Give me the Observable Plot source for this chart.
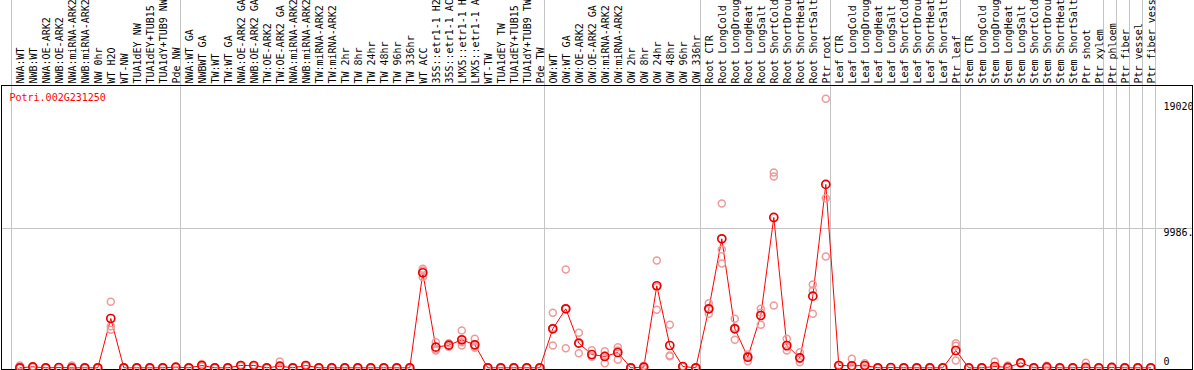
<!DOCTYPE html>
<html><head><meta charset="utf-8">
<script src="https://cdn.jsdelivr.net/npm/d3@7"></script>
<script src="https://cdn.jsdelivr.net/npm/@observablehq/plot@0.6"></script>
<style>
html,body{margin:0;padding:0;background:#fff;}
svg{display:block;}
</style>
</head><body><div id="chart"></div>
<script>
const gene = "Potri.002G231250";
const samples = [
"NWA:WT","NWB:WT","NWA:OE-ARK2","NWB:OE-ARK2","NWA:miRNA-ARK2","NWB:miRNA-ARK2","NW 0hr","WT H2O","WT-NW","TUA1dEY NW",
"TUA1dEY+TUB15 NW","TUA1dY+TUB9 NW","Pde NW","NWA:WT GA","NWBWT GA","TW:WT","TW:WT GA","NWA:OE-ARK2 GA","NWB:OE-ARK2 GA","TW:OE-ARK2",
"TW:OE-ARK2 GA","NWA:miRNA-ARK2 GA","NWB:miRNA-ARK2 GA","TW:miRNA-ARK2","TW:miRNA-ARK2 GA","TW 2hr","TW 8hr","TW 24hr","TW 48hr","TW 96hr",
"TW 336hr","WT ACC","35S::etr1-1 H2O","35S::etr1-1 ACC","LMX5::etr1-1 H2O","LMX5::etr1-1 ACC","WT-TW","TUA1dEY TW","TUA1dEY+TUB15 TW","TUA1dY+TUB9 TW",
"Pde TW","OW:WT","OW:WT GA","OW:OE-ARK2","OW:OE-ARK2 GA","OW:miRNA-ARK2","OW:miRNA-ARK2 GA","OW 2hr","OW 8hr","OW 24hr",
"OW 48hr","OW 96hr","OW 336hr","Root CTR","Root LongCold","Root LongDrought","Root LongHeat","Root LongSalt","Root ShortCold","Root ShortDrought",
"Root ShortHeat","Root ShortSalt","Ptr root","Leaf CTR","Leaf LongCold","Leaf LongDrought","Leaf LongHeat","Leaf LongSalt","Leaf ShortCold","Leaf ShortDrought",
"Leaf ShortHeat","Leaf ShortSalt","Ptr leaf","Stem CTR","Stem LongCold","Stem LongDrought","Stem LongHeat","Stem LongSalt","Stem ShortCold","Stem ShortDrought",
"Stem ShortHeat","Stem ShortSalt","Ptr shoot","Ptr xylem","Ptr phloem","Ptr fiber","Ptr vessel","Ptr fiber vessel"
];
// index of first sample of each group (gray separators)
const groupStarts = [0,13,41,53,63,73,84,85,86,87,88];

const means = [
0,70,0,20,0,0,0,3527,0,0,
0,0,50,0,165,0,0,165,165,0,
115,0,165,0,0,0,0,0,0,0,
0,6795,1474,1617,2003,1645,0,0,0,0,
0,2790,4220,1760,951,808,1094,0,50,5866,
1595,93,0,4220,9225,2790,758,3741,10751,1595,
715,5122,13112,165,143,165,0,20,0,0,
0,0,1237,0,0,93,30,358,0,50,
0,0,30,0,30,0,0,0
];
const rep1 = [
165,90,0,30,165,0,0,4720,0,0,
0,0,60,0,270,0,0,200,200,0,
450,0,200,0,0,0,0,0,0,0,
0,7082,1831,1760,2668,2074,0,0,0,0,
0,3934,7032,2504,1250,1188,1474,0,150,7675,
3076,100,0,4621,11753,3505,951,4220,13970,2074,
1116,5958,19240,200,644,330,0,30,0,0,
0,0,1760,0,0,450,165,380,0,143,
0,0,358,0,60,0,0,0
];
const rep2 = [
0,60,0,20,0,0,0,2976,0,0,
0,0,50,0,120,0,0,150,150,0,
0,0,150,0,0,0,0,0,0,0,
0,6960,1309,1600,1831,1524,0,0,0,0,
0,1595,1403,1045,808,330,572,0,0,4149,
830,90,0,3863,8462,2003,472,3076,13684,1237,
400,5530,12130,150,0,165,0,20,0,0,
0,0,1574,0,0,0,0,358,0,0,
0,0,0,0,20,0,0,0
];
const rep3 = [
0,60,0,10,0,0,0,2718,0,0,
0,0,40,0,105,0,0,145,145,0,
0,0,145,0,0,0,0,0,0,0,
0,6481,1238,1500,1595,1431,0,0,0,0,
0,2841,4225,1731,800,900,1240,0,0,5774,
880,90,0,4180,7460,2860,850,3930,4456,1480,
630,3863,7962,145,0,0,0,10,0,0,
0,0,522,0,0,0,0,340,0,0,
0,0,0,0,10,0,0,0
];
const yTicks = [0, 9986, 19020];
const yTickLabels = ["0", "9986.5", "19020"];
const yMax = 19972;

const meanData = samples.map((s, i) => ({i, s, v: means[i]}));
const repData = [];
[rep1, rep2, rep3].forEach(r => r.forEach((v, i) => repData.push({i, v})));
const tickData = yTicks.map((v, i) => ({v, label: yTickLabels[i]}));

const chart = Plot.plot({
  width: 1194, height: 370,
  marginTop: 85, marginBottom: 1, marginLeft: 1, marginRight: 2,
  x: {domain: [0, samples.length - 1], range: [19.3, 1150.3], axis: null},
  y: {domain: [0, yMax], range: [367.3, 88], axis: null},
  style: {fontFamily: "'DejaVu Sans Mono', monospace", fontSize: "10px", background: "#fff", color: "black"},
  marks: [
    Plot.ruleY([yTicks[1]], {stroke: "#c4c4c4", shapeRendering: "crispEdges"}),
    Plot.ruleX(groupStarts, {x: d => d, dx: -8.3, stroke: "#c4c4c4", insetTop: -85, shapeRendering: "crispEdges"}),
    Plot.frame({stroke: "black", shapeRendering: "crispEdges"}),
    Plot.line(meanData, {x: "i", y: "v", stroke: "#ff0000", strokeWidth: 1}),
    Plot.dot(repData, {x: "i", y: "v", r: 3.5, stroke: "#ee9a9a", strokeWidth: 1.5}),
    Plot.dot(meanData, {x: "i", y: "v", r: 4, stroke: "#e80000", strokeWidth: 1.7}),
    Plot.text(samples, {x: (d, i) => i, text: d => d, frameAnchor: "top", rotate: -90, textAnchor: "start", lineAnchor: "middle", dy: -2, dx: 0.8, fill: "black"}),
    Plot.text([gene], {frameAnchor: "top-left", text: d => d, textAnchor: "start", lineAnchor: "top", dx: 8, dy: 8, fill: "#ff0000"}),
    Plot.text(tickData.filter(d => d.v > 0), {y: "v", text: "label", frameAnchor: "right", textAnchor: "start", lineAnchor: "middle", dx: -29, dy: 5, clip: true, fill: "black"}),
    Plot.text(tickData.filter(d => d.v === 0), {y: "v", text: "label", frameAnchor: "right", textAnchor: "start", lineAnchor: "middle", dx: -29, dy: -6, clip: true, fill: "black"})
  ]
});
document.getElementById("chart").appendChild(chart);
</script>
</body></html>
